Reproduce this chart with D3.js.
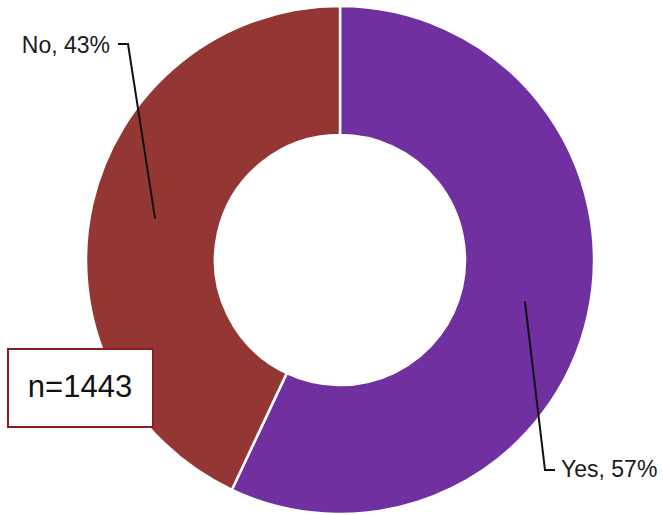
<!DOCTYPE html>
<html>
<head>
<meta charset="utf-8">
<script src="https://cdn.jsdelivr.net/npm/d3@7/dist/d3.min.js"></script>
<style>
  html, body { margin: 0; padding: 0; background: #ffffff; }
  svg { display: block; }
</style>
</head>
<body>
<svg id="chart" width="663" height="515"></svg>
<script>
// Survey answers (percent of respondents)
const categories = ["Yes", "No"];
const values = [57, 43];
const colors = ["#7030A0", "#943634"];
const sampleLabel = "n=1443";

const svg = d3.select("#chart");
const cx = 340, cy = 260;
const outerR = 254, innerR = 125;

const pie = d3.pie().sort(null).value(d => d.value);
const arcs = pie(categories.map((c, i) => ({ name: c, value: values[i], color: colors[i] })));

const arc = d3.arc().innerRadius(innerR).outerRadius(outerR);
const midArc = d3.arc().innerRadius((innerR + outerR) / 2).outerRadius((innerR + outerR) / 2);

const g = svg.append("g").attr("transform", `translate(${cx},${cy})`);

g.selectAll("path.slice")
  .data(arcs)
  .join("path")
  .attr("class", "slice")
  .attr("d", arc)
  .attr("fill", d => d.data.color)
  .attr("stroke", "#ffffff")
  .attr("stroke-width", 2.5);

// Leader lines and labels, positioned by hand relative to each slice centroid
const labelSpec = {
  Yes: { elbow: [545, 470], end: [555, 470], text: [561, 477], anchor: "start" },
  No:  { elbow: [128, 44],  end: [118, 44],  text: [110, 53],  anchor: "end" }
};

arcs.forEach(d => {
  const [mx, my] = midArc.centroid(d);
  const s = labelSpec[d.data.name];
  svg.append("polyline")
    .attr("points", [[cx + mx, cy + my], s.elbow, s.end].map(p => p.join(",")).join(" "))
    .attr("fill", "none")
    .attr("stroke", "#111111")
    .attr("stroke-width", 2);
  svg.append("text")
    .attr("x", s.text[0])
    .attr("y", s.text[1])
    .attr("text-anchor", s.anchor)
    .attr("font-family", "Liberation Sans, Arial, sans-serif")
    .attr("font-size", 23)
    .attr("fill", "#1a1a1a")
    .text(`${d.data.name}, ${d.data.value}%`);
});

// Sample size box
svg.append("rect")
  .attr("x", 8).attr("y", 349)
  .attr("width", 145).attr("height", 78)
  .attr("fill", "#ffffff")
  .attr("stroke", "#8B1E1E")
  .attr("stroke-width", 2);

svg.append("text")
  .attr("x", 80).attr("y", 397)
  .attr("text-anchor", "middle")
  .attr("font-family", "Liberation Sans, Arial, sans-serif")
  .attr("font-size", 31)
  .attr("fill", "#111111")
  .text(sampleLabel);
</script>
</body>
</html>
